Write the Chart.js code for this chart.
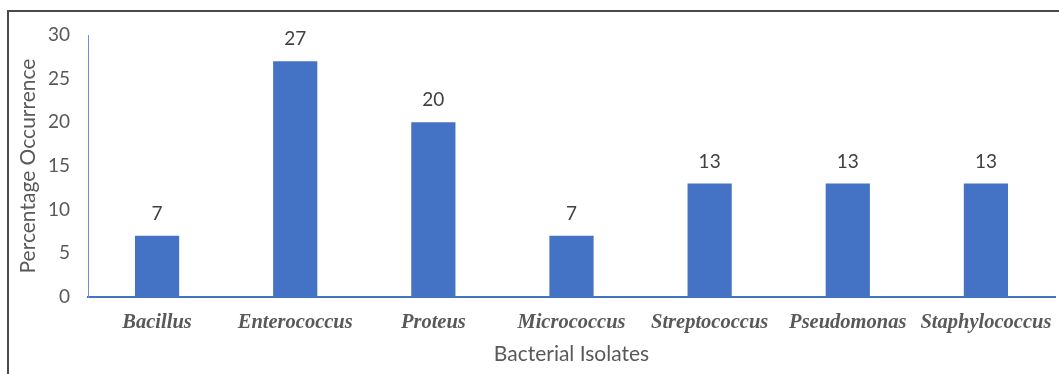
<!DOCTYPE html>
<html>
<head>
<meta charset="utf-8">
<script src="https://cdn.jsdelivr.net/npm/chart.js@4/dist/chart.umd.min.js"></script>
<style>
  html, body { margin: 0; padding: 0; background: #fff; }
  #wrap { width: 1059px; height: 374px; position: relative; }
</style>
</head>
<body>
<div id="wrap"><canvas id="c" width="1059" height="374"></canvas></div>
<script>
// Bacterial isolates and their percentage occurrence
const isolates = ['Bacillus', 'Enterococcus', 'Proteus', 'Micrococcus', 'Streptococcus', 'Pseudomonas', 'Staphylococcus'];
const occurrence = [7, 27, 20, 7, 13, 13, 13];
const yTicks = [0, 5, 10, 15, 20, 25, 30];

const barBlue = '#4472C4';
const textGrey = '#595959';
const sansFamily = 'Lato, "Open Sans", sans-serif';

// Outer frame (top and left edges of the chart box)
const framePlugin = {
  id: 'frame',
  afterDraw(chart) {
    const ctx = chart.ctx;
    ctx.save();
    ctx.strokeStyle = '#4a4a4a';
    ctx.lineWidth = 2;
    ctx.beginPath();
    ctx.moveTo(8, 374);
    ctx.lineTo(8, 11);
    ctx.lineTo(1059, 11);
    ctx.stroke();
    ctx.restore();
  }
};

// Value labels above each bar
const valueLabels = {
  id: 'valueLabels',
  afterDatasetsDraw(chart) {
    const ctx = chart.ctx;
    const meta = chart.getDatasetMeta(0);
    ctx.save();
    ctx.font = '19px ' + sansFamily;
    ctx.fillStyle = '#404040';
    ctx.textAlign = 'center';
    ctx.textBaseline = 'middle';
    meta.data.forEach((bar, i) => {
      ctx.fillText(String(occurrence[i]), bar.x, bar.y - 22);
    });
    ctx.restore();
  }
};

new Chart(document.getElementById('c'), {
  type: 'bar',
  data: {
    labels: isolates,
    datasets: [{
      data: occurrence,
      backgroundColor: barBlue,
      borderWidth: 0,
      categoryPercentage: 1,
      barPercentage: 0.32
    }]
  },
  options: {
    responsive: false,
    animation: false,
    layout: { padding: { left: 0, top: 35, right: 4, bottom: 0 } },
    plugins: { legend: { display: false }, tooltip: { enabled: false } },
    scales: {
      x: {
        grid: { display: false, drawTicks: false },
        border: { display: true, color: barBlue, width: 2 },
        ticks: {
          color: textGrey,
          padding: 13,
          maxRotation: 0,
          autoSkip: false,
          font: { family: '"Liberation Serif", "Times New Roman", serif', size: 20.5, style: 'italic', weight: 'bold' }
        },
        title: {
          display: true,
          text: 'Bacterial Isolates',
          color: textGrey,
          padding: { top: 0, bottom: 7 },
          font: { family: sansFamily, size: 21 }
        },
        afterFit(scale) {
          scale.height = 77;
          // let the outer labels run to the edge instead of shrinking the plot
          scale.paddingLeft = 0;
          scale.paddingRight = 0;
        }
      },
      y: {
        min: 0,
        max: 30,
        afterBuildTicks(scale) { scale.ticks = yTicks.map(v => ({ value: v })); },
        grid: { display: false, drawTicks: false },
        border: { display: true, color: '#6f8fd0', width: 1 },
        ticks: {
          color: textGrey,
          padding: 18,
          font: { family: sansFamily, size: 19 }
        },
        title: {
          display: true,
          text: 'Percentage Occurrence',
          color: textGrey,
          padding: { top: 16, bottom: 0 },
          font: { family: sansFamily, size: 21 }
        },
        afterFit(scale) { scale.width = 88; }
      }
    }
  },
  plugins: [framePlugin, valueLabels]
});
</script>
</body>
</html>
